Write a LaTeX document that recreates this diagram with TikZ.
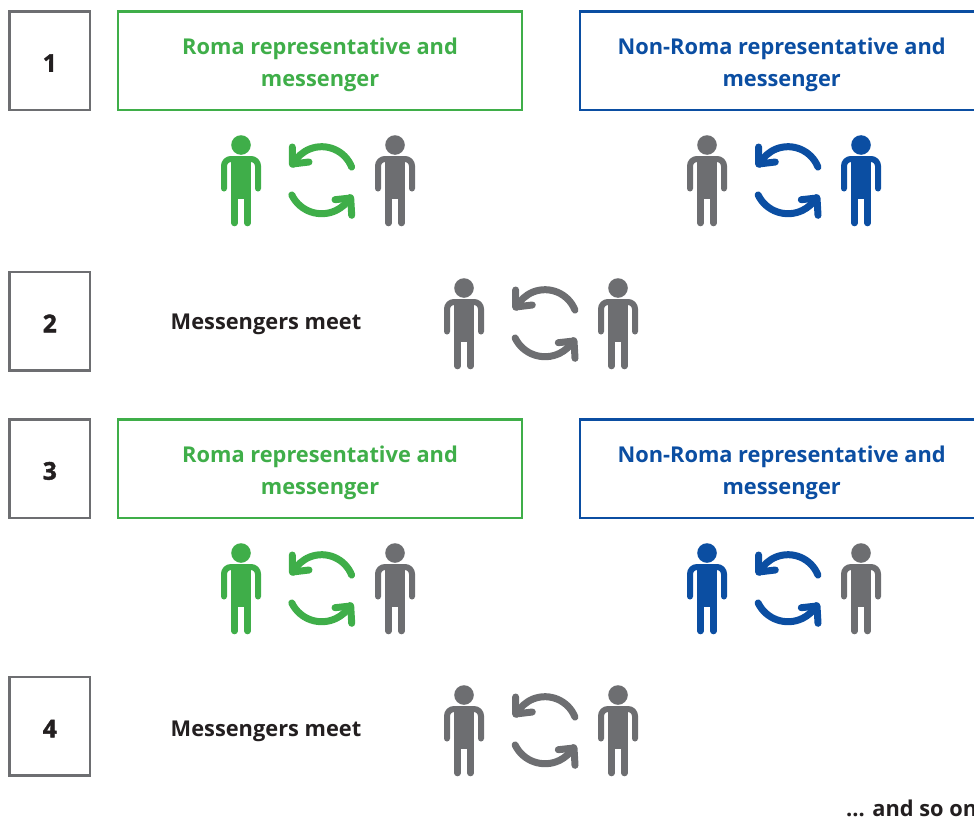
\documentclass[tikz,border=0pt]{standalone}
\usepackage{fontspec}
\setmainfont{Open Sans}
\newfontfamily\numfont{Open Sans}[BoldFeatures={FakeBold=1.6}]
\usetikzlibrary{positioning}
\definecolor{romagreen}{HTML}{3FAE49}
\definecolor{nonromablue}{HTML}{0B4EA2}
\definecolor{stepgray}{HTML}{6D6E71}
\definecolor{labelblack}{HTML}{231F20}
\newcommand{\toprow}{\rule{0pt}{24.6pt}}
\tikzset{
  numbox/.style={draw=stepgray, line width=2.4pt, outer sep=0pt, minimum width=80.5pt, minimum height=98.5pt,
    text=labelblack, font=\fontsize{24.5}{28}\numfont\bfseries, execute at begin node={\rule{0pt}{22pt}}},
  repbox/.style={draw=#1, text=#1, line width=2.2pt, outer sep=0pt, minimum width=404pt, minimum height=98.5pt,
    align=center, font=\fontsize{21.8}{32}\selectfont\bfseries},
  meettext/.style={text=labelblack, font=\fontsize{21.8}{32}\selectfont\bfseries, inner sep=0pt},
  pics/person/.style={code={
    \fill[#1] (0,0) circle (9.8);
    \fill[#1] (-9.8,11.2) rectangle (9.8,54);
    \draw[#1, line width=6pt, line cap=round] (-17,43.5) -- (-17,21) arc[start angle=180, end angle=270, radius=7] -- (-9,14);
    \draw[#1, line width=6pt, line cap=round] (17,43.5) -- (17,21) arc[start angle=0, end angle=-90, radius=7] -- (9,14);
    \draw[#1, line width=6.6pt, line cap=round] (-6.5,50) -- (-6.5,78);
    \draw[#1, line width=6.6pt, line cap=round] (6.5,50) -- (6.5,78);
  }},
  pics/cycle/.style={code={
    \draw[#1, line width=7pt, line cap=round, line join=round]
      (-21.6:32.2) ++(0,-0.4) arc[start angle=-21.6, end angle=-153, radius=32.2];
    \draw[#1, line width=7pt, line cap=round, line join=round]
      (-29.4,-32.3) -- (-29.4,-15.3) -- (-12.7,-17.3);
    \draw[#1, line width=7pt, line cap=round, line join=round]
      (154.2:33.2) ++(0,1.2) arc[start angle=154.2, end angle=31, radius=33.2];
    \draw[#1, line width=7pt, line cap=round, line join=round]
      (13.3,20.4) -- (29,18.7) -- (30,36);
  }}
}
\begin{document}
\begin{tikzpicture}[x=1pt, y=-1pt]
  \useasboundingbox (0,0) rectangle (974,819);

  \node (num1) [numbox] at (49.8,60.8) {1};
  \node (num2) [numbox, below=162pt of num1] {2};
  \node (num3) [numbox, below=49pt of num2] {3};
  \node (num4) [numbox, below=159pt of num3] {4};

  \node (roma1) [repbox=romagreen, right=28pt of num1] {\toprow Roma representative and\\messenger};
  \node (nonroma1) [repbox=nonromablue, right=57.6pt of roma1] {\toprow Non-Roma representative and\\messenger};
  \node (roma3) [repbox=romagreen, right=28pt of num3] {\toprow Roma representative and\\messenger};
  \node (nonroma3) [repbox=nonromablue, right=57.6pt of roma3] {\toprow Non-Roma representative and\\messenger};

  \node (meet2) [meettext] at (266,324) {Messengers meet};
  \node (meet4) [meettext] at (266,731) {Messengers meet};
  \node (soon) [meettext, anchor=west] at (846,808) {... and so on};

  % row 1
  \pic at (241,145) {person=romagreen};
  \pic at (321.7,179.3) {cycle=romagreen};
  \pic at (395,145) {person=stepgray};
  \pic at (707,145) {person=stepgray};
  \pic at (788,179.3) {cycle=nonromablue};
  \pic at (861,145) {person=nonromablue};

  % row 2
  \pic at (464,288) {person=stepgray};
  \pic at (545,322.3) {cycle=stepgray};
  \pic at (618,288) {person=stepgray};

  % row 3
  \pic at (241,553) {person=romagreen};
  \pic at (321.7,587.3) {cycle=romagreen};
  \pic at (395,553) {person=stepgray};
  \pic at (707,553) {person=nonromablue};
  \pic at (788,587.3) {cycle=nonromablue};
  \pic at (861,553) {person=stepgray};

  % row 4
  \pic at (464,695) {person=stepgray};
  \pic at (545,729.3) {cycle=stepgray};
  \pic at (618,695) {person=stepgray};
\end{tikzpicture}
\end{document}
